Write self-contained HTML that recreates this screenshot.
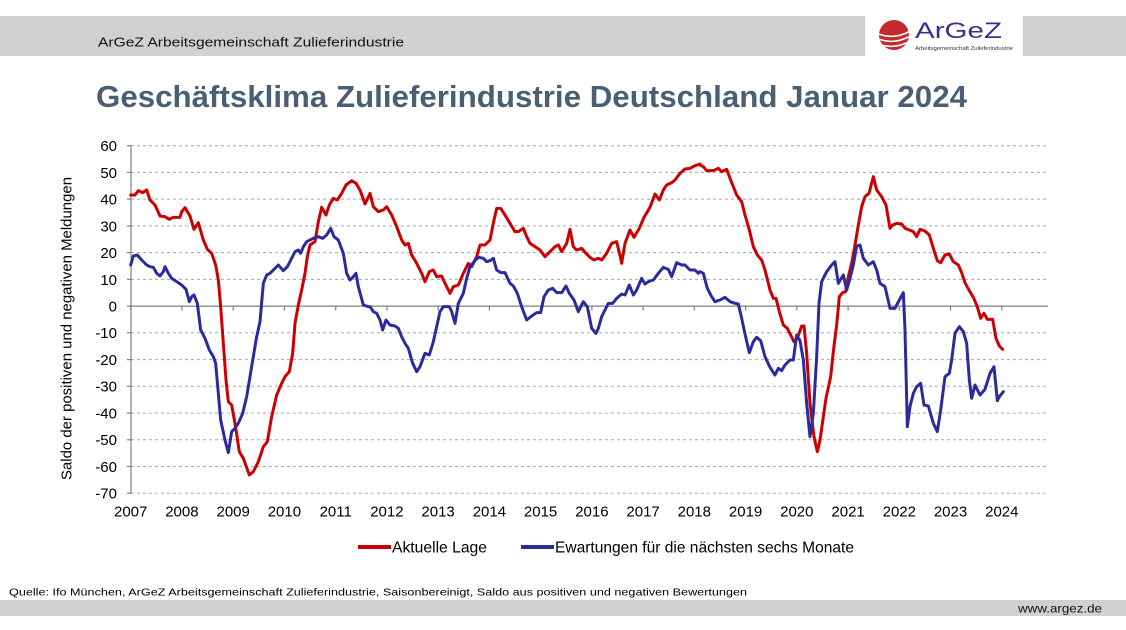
<!DOCTYPE html>
<html><head><meta charset="utf-8"><style>
html,body{margin:0;padding:0;background:#fff;}
svg{display:block;}
text{font-family:"Liberation Sans",Arial,sans-serif;}
</style></head><body>
<svg width="1126" height="630" viewBox="0 0 1126 630" xmlns="http://www.w3.org/2000/svg">
<rect x="0" y="0" width="1126" height="630" fill="#fff"/>
<!-- header bar -->
<rect x="0" y="16" width="1126" height="40" fill="#d0d0d0"/>
<rect x="865" y="14" width="158" height="43" fill="#fff"/>
<text x="98" y="46.5" font-size="12.5" fill="#111" textLength="306" lengthAdjust="spacingAndGlyphs">ArGeZ Arbeitsgemeinschaft Zulieferindustrie</text>
<!-- logo -->
<defs><clipPath id="sph"><circle cx="894" cy="35" r="15"/></clipPath></defs>
<circle cx="894" cy="35" r="15" fill="#c42a2e"/>
<g clip-path="url(#sph)" fill="none" stroke="#fff" stroke-width="1.6">
<path d="M876 33 Q894 41 912 30"/>
<path d="M876 38 Q894 46 912 35"/>
<path d="M876 43 Q894 51 912 40"/>
<path d="M876 48 Q894 56 912 45"/>
</g>
<text x="915" y="38" font-size="22" fill="#4a2a88" textLength="87" lengthAdjust="spacingAndGlyphs">ArGeZ</text>
<text x="915" y="50" font-size="5.5" fill="#333" textLength="98" lengthAdjust="spacingAndGlyphs">Arbeitsgemeinschaft Zulieferindustrie</text>
<!-- title -->
<text x="96" y="107" font-size="31" font-weight="bold" fill="#4a5f73" textLength="871" lengthAdjust="spacingAndGlyphs">Geschäftsklima Zulieferindustrie Deutschland Januar 2024</text>

<!-- gridlines -->
<g stroke="#a8a8a8" stroke-width="1" stroke-dasharray="3 3">
<line x1="131" x2="1048" y1="145.7" y2="145.7"/>
<line x1="131" x2="1048" y1="172.4" y2="172.4"/>
<line x1="131" x2="1048" y1="199.1" y2="199.1"/>
<line x1="131" x2="1048" y1="225.9" y2="225.9"/>
<line x1="131" x2="1048" y1="252.6" y2="252.6"/>
<line x1="131" x2="1048" y1="279.4" y2="279.4"/>
<line x1="131" x2="1048" y1="332.8" y2="332.8"/>
<line x1="131" x2="1048" y1="359.6" y2="359.6"/>
<line x1="131" x2="1048" y1="386.3" y2="386.3"/>
<line x1="131" x2="1048" y1="413.1" y2="413.1"/>
<line x1="131" x2="1048" y1="439.8" y2="439.8"/>
<line x1="131" x2="1048" y1="466.5" y2="466.5"/>
<line x1="131" x2="1048" y1="493.3" y2="493.3"/>
</g>
<!-- axes -->
<g stroke="#808080" stroke-width="1.2">
<line x1="131" x2="131" y1="145.7" y2="493.3"/>
<line x1="131" x2="1048" y1="306.1" y2="306.1"/>
<line x1="127" x2="131" y1="145.7" y2="145.7"/>
<line x1="127" x2="131" y1="172.4" y2="172.4"/>
<line x1="127" x2="131" y1="199.1" y2="199.1"/>
<line x1="127" x2="131" y1="225.9" y2="225.9"/>
<line x1="127" x2="131" y1="252.6" y2="252.6"/>
<line x1="127" x2="131" y1="279.4" y2="279.4"/>
<line x1="127" x2="131" y1="306.1" y2="306.1"/>
<line x1="127" x2="131" y1="332.8" y2="332.8"/>
<line x1="127" x2="131" y1="359.6" y2="359.6"/>
<line x1="127" x2="131" y1="386.3" y2="386.3"/>
<line x1="127" x2="131" y1="413.1" y2="413.1"/>
<line x1="127" x2="131" y1="439.8" y2="439.8"/>
<line x1="127" x2="131" y1="466.5" y2="466.5"/>
<line x1="127" x2="131" y1="493.3" y2="493.3"/>
<line x1="130.7" x2="130.7" y1="306" y2="310.5"/>
<line x1="181.9" x2="181.9" y1="306" y2="310.5"/>
<line x1="233.2" x2="233.2" y1="306" y2="310.5"/>
<line x1="284.4" x2="284.4" y1="306" y2="310.5"/>
<line x1="335.7" x2="335.7" y1="306" y2="310.5"/>
<line x1="386.9" x2="386.9" y1="306" y2="310.5"/>
<line x1="438.1" x2="438.1" y1="306" y2="310.5"/>
<line x1="489.4" x2="489.4" y1="306" y2="310.5"/>
<line x1="540.6" x2="540.6" y1="306" y2="310.5"/>
<line x1="591.9" x2="591.9" y1="306" y2="310.5"/>
<line x1="643.1" x2="643.1" y1="306" y2="310.5"/>
<line x1="694.3" x2="694.3" y1="306" y2="310.5"/>
<line x1="745.6" x2="745.6" y1="306" y2="310.5"/>
<line x1="796.8" x2="796.8" y1="306" y2="310.5"/>
<line x1="848.1" x2="848.1" y1="306" y2="310.5"/>
<line x1="899.3" x2="899.3" y1="306" y2="310.5"/>
<line x1="950.5" x2="950.5" y1="306" y2="310.5"/>
<line x1="1001.8" x2="1001.8" y1="306" y2="310.5"/>
</g>
<!-- y labels -->
<g font-size="15" fill="#000" text-anchor="end">
<text x="117" y="151">60</text>
<text x="117" y="177.8">50</text>
<text x="117" y="204.5">40</text>
<text x="117" y="231.3">30</text>
<text x="117" y="258">20</text>
<text x="117" y="284.8">10</text>
<text x="117" y="311.5">0</text>
<text x="117" y="338.2">-10</text>
<text x="117" y="365">-20</text>
<text x="117" y="391.7">-30</text>
<text x="117" y="418.5">-40</text>
<text x="117" y="445.2">-50</text>
<text x="117" y="471.9">-60</text>
<text x="117" y="498.7">-70</text>
</g>
<!-- x labels -->
<g font-size="15" fill="#000" text-anchor="middle">
<text x="130.7" y="516.5">2007</text>
<text x="181.9" y="516.5">2008</text>
<text x="233.2" y="516.5">2009</text>
<text x="284.4" y="516.5">2010</text>
<text x="335.7" y="516.5">2011</text>
<text x="386.9" y="516.5">2012</text>
<text x="438.1" y="516.5">2013</text>
<text x="489.4" y="516.5">2014</text>
<text x="540.6" y="516.5">2015</text>
<text x="591.9" y="516.5">2016</text>
<text x="643.1" y="516.5">2017</text>
<text x="694.3" y="516.5">2018</text>
<text x="745.6" y="516.5">2019</text>
<text x="796.8" y="516.5">2020</text>
<text x="848.1" y="516.5">2021</text>
<text x="899.3" y="516.5">2022</text>
<text x="950.5" y="516.5">2023</text>
<text x="1001.8" y="516.5">2024</text>
</g>
<!-- y title -->
<text transform="translate(71.5,328.5) rotate(-90)" font-size="15" text-anchor="middle" fill="#000" textLength="303" lengthAdjust="spacingAndGlyphs">Saldo der positiven und negativen Meldungen</text>

<!-- red series -->
<g fill="none" stroke="#cc0000" stroke-width="9" stroke-linejoin="round" stroke-linecap="round">
<polyline transform="translate(50,130) scale(0.333333)" points="242,195 255,195 265,182 278,188 290,180 300,210 315,225 330,258 345,260 358,268 370,262 390,262 395,245 405,233 420,258 432,298 445,278 460,330 472,358 485,370 497,405 505,450 512,530 520,640 528,750 535,815 545,825 555,880 568,965 580,985 598,1035 610,1025 625,995 640,950 652,935 665,860 680,795 695,760 705,740 718,725 728,670 735,580 745,525 755,480 765,430 772,380 780,345 795,335 805,275 815,232 828,255 838,225 850,205 862,210 875,190 888,165 905,152 918,160 930,180 945,222 958,195"/>
<polyline transform="translate(370,130) scale(0.333333)" points="0,190 10,230 25,245 40,240 50,230 65,255 80,290 95,330 105,345 115,340 125,375 140,400 155,430 165,455 178,425 190,420 200,440 215,438 225,460 240,490 250,470 265,465 280,430 295,400 305,410 320,380 330,345 345,345 360,330 370,280 380,235 392,235 405,255 420,280 435,305 445,305 460,295 470,320 480,340 495,350 510,360 525,380 540,365 555,350 565,345 575,365 590,340 600,298 610,350 620,360 635,355 648,370 660,382 672,390 685,385 695,390 710,370 725,340 740,335 752,385 755,400 765,340 780,300 792,322 808,295 822,262 840,232 855,192 868,210 880,180 890,165 905,158 915,150 930,130 945,117 960,115 975,107 990,102"/>
<polyline transform="translate(700,130) scale(0.333333)" points="0,105 10,110 20,122 40,122 55,115 65,125 80,118 92,150 100,170 110,195 125,215 135,255 148,300 160,350 172,375 185,390 195,420 210,480 220,505 228,505 238,545 250,585 262,595 272,615 282,635 292,625 305,588 312,588 320,670 330,820 342,920 352,965 360,930 370,860 378,805 392,740 400,665 410,585 418,500 428,488 437,485 445,440 455,400 465,345 475,285 485,230 495,200 507,190 520,140 530,180 545,200 558,225 570,295 578,285 590,280 605,282 615,295 628,300 640,305 650,320 660,298 675,303 688,315 700,355 712,392 722,398 735,375 748,372 760,395 775,405 785,428 795,458 808,482 820,502 832,530 842,565 852,550 862,568 878,568 888,625 898,648 908,658"/>
</g>
<!-- blue series -->
<g fill="none" stroke="#2b2b9e" stroke-width="9" stroke-linejoin="round" stroke-linecap="round">
<polyline transform="translate(50,130) scale(0.333333)" points="242,405 250,378 262,375 275,390 290,405 300,410 310,412 320,430 330,438 340,425 345,410 355,430 365,445 380,455 395,465 408,478 418,515 425,500 432,495 442,520 452,600 465,625 478,660 490,680 497,700 505,790 512,870 525,930 535,968 545,905 555,895 565,880 578,850 590,800 600,740 610,680 620,620 630,575 640,460 650,435 660,430 675,415 685,405 700,422 712,410 725,385 735,365 745,360 752,370 760,350 770,335 790,325 805,320 818,325 830,315 842,295 852,320 865,330 880,370 890,430 900,450 910,440 918,430 925,470 940,525 955,530"/>
<polyline transform="translate(370,130) scale(0.333333)" points="0,530 10,545 20,550 30,570 38,600 48,570 60,585 75,588 85,595 95,620 105,640 115,655 128,700 140,725 150,710 165,670 178,675 190,635 200,590 210,545 220,530 238,530 245,545 255,580 265,520 280,490 290,445 300,410 312,395 325,382 340,385 350,395 360,392 370,385 380,420 393,428 405,428 420,460 430,468 442,490 455,530 470,570 485,558 500,548 512,548 522,500 535,480 548,475 560,488 575,488 588,468 598,490 612,510 625,545 640,515 652,530 665,595 678,610 685,595 695,560 705,540 715,520 728,520 740,505 755,492 765,495 778,465 790,495 800,480 815,445 825,462 835,455 850,450 865,430 880,412 895,418 905,440 920,398 935,405 945,405 960,420 975,420 985,430"/>
<polyline transform="translate(700,130) scale(0.333333)" points="0,425 10,430 22,475 35,500 45,515 60,510 75,502 90,515 105,520 115,522 125,565 135,612 148,668 160,635 170,622 182,632 195,680 210,712 225,735 235,715 245,722 255,705 270,690 280,690 290,615 300,632 310,690 320,820 330,920 340,850 350,680 357,520 365,455 380,425 395,405 405,395 415,460 430,435 440,480 450,445 460,405 470,348 480,345 490,385 505,405 520,395 530,420 540,460 555,470 570,535 585,535 598,510 610,488 615,600 622,890 630,830 640,790 650,770 662,760 672,825 685,828 700,880 712,905 722,840 735,740 748,730 755,690 765,610 778,590 790,605 800,640 808,750 815,805 825,765 840,795 855,778 870,730 882,710 892,812 898,800 910,785"/>
</g>

<!-- legend -->
<line x1="358" x2="391" y1="547" y2="547" stroke="#cc0000" stroke-width="4"/>
<text x="392" y="552.5" font-size="15.7" fill="#000" textLength="95" lengthAdjust="spacingAndGlyphs">Aktuelle Lage</text>
<line x1="521" x2="554" y1="547" y2="547" stroke="#2b2b9e" stroke-width="4"/>
<text x="555" y="552.5" font-size="15.7" fill="#000" textLength="299" lengthAdjust="spacingAndGlyphs">Ewartungen für die nächsten sechs Monate</text>

<!-- source -->
<text x="9" y="595.5" font-size="10.5" fill="#000" textLength="738" lengthAdjust="spacingAndGlyphs">Quelle: Ifo München, ArGeZ Arbeitsgemeinschaft Zulieferindustrie, Saisonbereinigt, Saldo aus positiven und negativen Bewertungen</text>
<!-- footer -->
<rect x="0" y="600" width="1126" height="16" fill="#d0d0d0"/>
<text x="1018" y="612.5" font-size="12" fill="#111" textLength="84" lengthAdjust="spacingAndGlyphs">www.argez.de</text>
</svg>
</body></html>
